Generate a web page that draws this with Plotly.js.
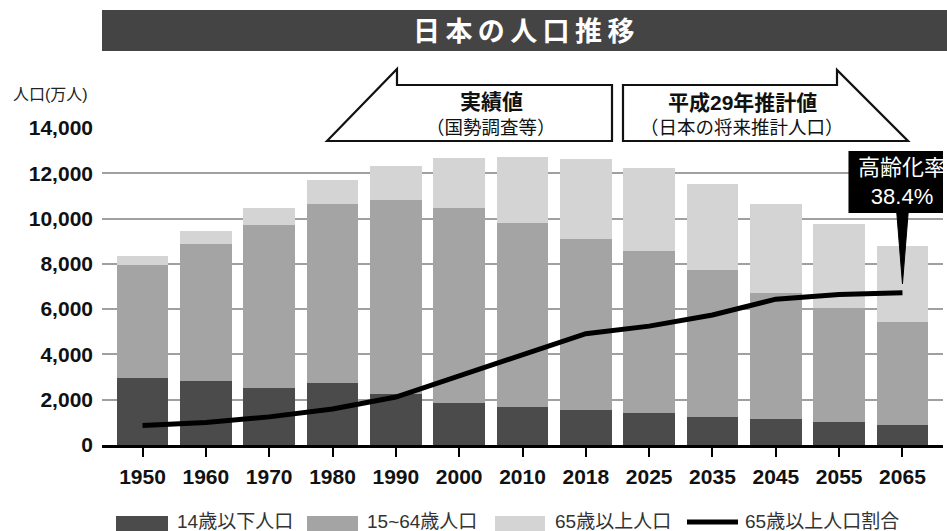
<!DOCTYPE html>
<html><head><meta charset="utf-8">
<script src="https://cdn.plot.ly/plotly-3.0.1.min.js"></script>
<style>html,body{margin:0;padding:0;background:#fff}</style>
</head><body>
<div id="chart" style="width:947px;height:531px"></div>
<script>
// ---- data ----
const years = ['1950','1960','1970','1980','1990','2000','2010','2018','2025','2035','2045','2055','2065'];
const under15 = [2979, 2843, 2515, 2751, 2249, 1847, 1680, 1542, 1407, 1246, 1138, 1012, 898];
const age15to64 = [4966, 6047, 7212, 7883, 8590, 8622, 8103, 7545, 7170, 6494, 5584, 5028, 4529];
const age65plus = [416, 540, 739, 1065, 1489, 2204, 2948, 3558, 3677, 3782, 3919, 3704, 3381];
const agingRate = [4.9, 5.7, 7.1, 9.1, 12.1, 17.4, 23.0, 28.1, 30.0, 32.8, 36.8, 38.0, 38.4];
const seriesNames = ['14歳以下人口', '15~64歳人口', '65歳以上人口', '65歳以上人口割合'];
const yTicks = [0, 2000, 4000, 6000, 8000, 10000, 12000, 14000];

// ---- styling ----
const FONT = "'Liberation Sans', 'Noto Sans CJK JP', sans-serif";
const C_DARK = '#4b4b4b', C_MID = '#a4a4a4', C_LIGHT = '#d4d4d4';
const W = 947, H = 531;
const L = 102, R = 943, T = 128, B = 445;
const px = x => (x - L) / (R - L);
const py = y => (B - y) / (B - T);
const pathOf = pts => 'M ' + pts.map(p => px(p[0]).toFixed(5) + ',' + py(p[1]).toFixed(5)).join(' L ') + ' Z';

const traces = [
  {type:'bar', x:years, y:under15, name:seriesNames[0], marker:{color:C_DARK}, showlegend:false},
  {type:'bar', x:years, y:age15to64, name:seriesNames[1], marker:{color:C_MID}, showlegend:false},
  {type:'bar', x:years, y:age65plus, name:seriesNames[2], marker:{color:C_LIGHT}, showlegend:false},
  {type:'scatter', mode:'lines', x:years, y:agingRate, yaxis:'y2', name:seriesNames[3],
   line:{color:'#000', width:5}, showlegend:false}
];

const last = years.length - 1;
const shapes = [
  // title bar
  {type:'rect', xref:'paper', yref:'paper', x0:px(102), x1:px(950), y0:py(51), y1:py(10),
   fillcolor:'#444444', line:{width:0}},
  // left arrow box
  {type:'path', xref:'paper', yref:'paper', path:pathOf([[327,141],[397,69],[397,85],[612,85],[612,141]]),
   fillcolor:'#fff', line:{color:'#111', width:2.2}},
  // right arrow box
  {type:'path', xref:'paper', yref:'paper', path:pathOf([[623,85],[837,85],[837,70],[908,141],[623,141]]),
   fillcolor:'#fff', line:{color:'#111', width:2.2}},
  // callout box
  {type:'rect', xref:'x', yref:'paper', xsizemode:'pixel', xanchor:last, x0:-54, x1:56,
   y0:py(213), y1:py(151), fillcolor:'#000', line:{width:0}},
  // callout wedge
  {type:'path', xref:'x', yref:'y2', xsizemode:'pixel', ysizemode:'pixel',
   xanchor:last, yanchor:agingRate[last], path:'M -6,84 L 6,84 L 0,9 Z',
   fillcolor:'#000', line:{color:'#000', width:1}},
  // legend swatches
  {type:'rect', xref:'paper', yref:'paper', x0:px(116), x1:px(168), y0:py(545), y1:py(516), fillcolor:C_DARK, line:{width:0}},
  {type:'rect', xref:'paper', yref:'paper', x0:px(307), x1:px(358), y0:py(545), y1:py(516), fillcolor:C_MID, line:{width:0}},
  {type:'rect', xref:'paper', yref:'paper', x0:px(495), x1:px(545), y0:py(545), y1:py(516), fillcolor:C_LIGHT, line:{width:0}},
  {type:'line', xref:'paper', yref:'paper', x0:px(687), x1:px(738), y0:py(522), y1:py(522), line:{color:'#000', width:5}}
];

const ann = (x, y, text, size, opts) => Object.assign({
  xref:'paper', yref:'paper', x:px(x), y:py(y), text:text, showarrow:false,
  font:{family:FONT, size:size, color:'#111'}, xanchor:'center', yanchor:'middle'
}, opts || {});

const legFont = {family:FONT, size:19, color:'#333'};
const titleText = Array.from('日本の人口推移').join('\u2009');
const annotations = [
  ann(523, 32, titleText, 27, {font:{family:FONT, size:27, color:'#fff', weight:'bold'}}),
  ann(50, 94, '人口(万人)', 16, {font:{family:FONT, size:16, color:'#222'}}),
  ann(491, 101, '実績値', 21, {font:{family:FONT, size:21, color:'#111', weight:'bold'}}),
  ann(491, 127, '（国勢調査等）', 18.5),
  ann(742, 102, '平成29年推計値', 21, {font:{family:FONT, size:21, color:'#111', weight:'bold'}}),
  ann(742, 127, '（日本の将来推計人口）', 18.5),
  {xref:'x', yref:'paper', x:last, y:py(182), showarrow:false,
   text:'高齢化率<br>' + agingRate[last].toFixed(1) + '%',
   font:{family:FONT, size:22, color:'#fff'}, xanchor:'center', yanchor:'middle'},
  ann(175, 521, seriesNames[0], 19, {xanchor:'left', font:legFont}),
  ann(365, 521, seriesNames[1], 19, {xanchor:'left', font:legFont}),
  ann(553, 521, seriesNames[2], 19, {xanchor:'left', font:legFont}),
  ann(743, 521, seriesNames[3], 19, {xanchor:'left', font:legFont})
];

const layout = {
  width:W, height:H,
  margin:{l:L, r:W-R, t:T, b:H-B, pad:0},
  paper_bgcolor:'#fff', plot_bgcolor:'#fff',
  barmode:'stack', bargap:0.18,
  font:{family:FONT, color:'#111'},
  showlegend:false,
  xaxis:{type:'category', range:[-0.64, 12.64], showgrid:false, zeroline:false,
         showline:true, linecolor:'#000', linewidth:3,
         ticks:'outside', ticklen:9, tickwidth:2, tickcolor:'#000',
         tickfont:{family:FONT, size:21, color:'#111', weight:'bold'}, ticklabelstandoff:2},
  yaxis:{range:[0, 14000], tickvals:yTicks, tickformat:',', showgrid:true, gridcolor:'#a0a0a0', gridwidth:2,
         zeroline:false, showline:false, ticks:'',
         tickfont:{family:FONT, size:21, color:'#111', weight:'bold'}, ticklabelstandoff:8},
  yaxis2:{overlaying:'y', range:[0, 80], visible:false},
  shapes:shapes, annotations:annotations,
  hovermode:false
};

Plotly.newPlot('chart', traces, layout, {staticPlot:true, displayModeBar:false});
</script>
</body></html>
